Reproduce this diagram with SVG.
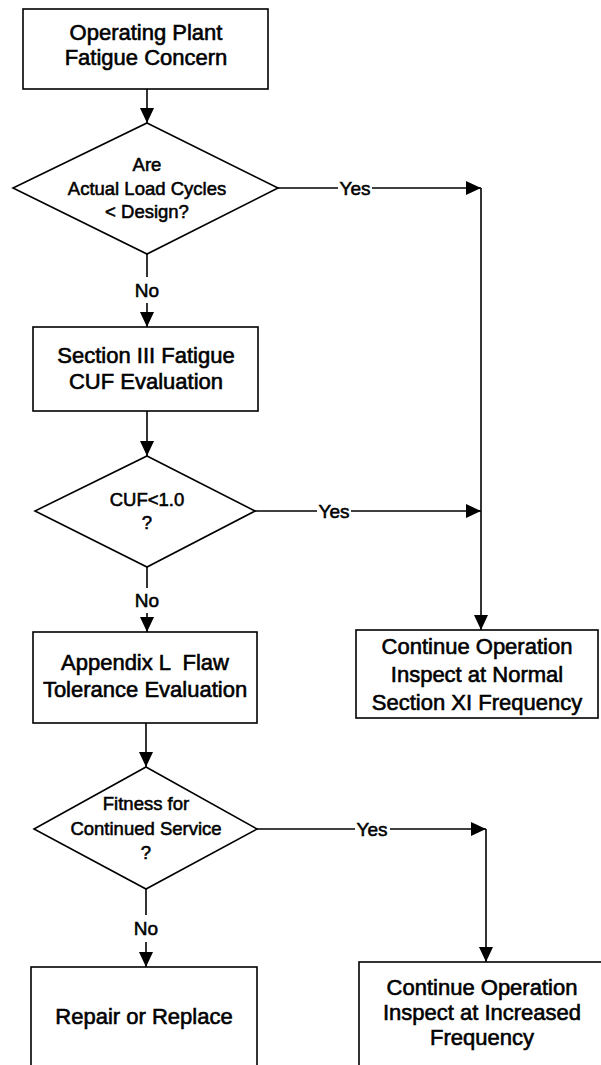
<svg xmlns="http://www.w3.org/2000/svg" width="601" height="1065" viewBox="0 0 601 1065">
<defs>
<marker id="ah" markerUnits="userSpaceOnUse" markerWidth="16" markerHeight="14" refX="15" refY="7" orient="auto">
<path d="M0,0 L15,7 L0,14 Z" fill="#000"/>
</marker>
<style>
.n{fill:#fff;stroke:#000;stroke-width:1.6}
.t{font-family:"Liberation Sans",Arial,sans-serif;font-size:22px;fill:#000;stroke:#000;stroke-width:0.6;text-anchor:middle;white-space:pre}
.d{font-family:"Liberation Sans",Arial,sans-serif;font-size:18.5px;fill:#000;stroke:#000;stroke-width:0.55;text-anchor:middle}
.l{font-family:"Liberation Sans",Arial,sans-serif;font-size:19px;fill:#000;stroke:#000;stroke-width:0.55;text-anchor:middle}
.c{fill:none;stroke:#000;stroke-width:1.6}
</style>
</defs>
<rect width="601" height="1065" fill="#fff"/>
<g id="connectors">
<line class="c" x1="147" y1="89" x2="147" y2="123" marker-end="url(#ah)"/>
<line class="c" x1="278" y1="188" x2="338" y2="188"/>
<line class="c" x1="372" y1="188" x2="481" y2="188" marker-end="url(#ah)"/>
<line class="c" x1="481" y1="188" x2="481" y2="630" marker-end="url(#ah)"/>
<line class="c" x1="147" y1="254" x2="147" y2="277"/>
<line class="c" x1="147" y1="303" x2="147" y2="327" marker-end="url(#ah)"/>
<line class="c" x1="147" y1="411" x2="147" y2="456" marker-end="url(#ah)"/>
<line class="c" x1="255" y1="511" x2="317" y2="511"/>
<line class="c" x1="351" y1="511" x2="481" y2="511" marker-end="url(#ah)"/>
<line class="c" x1="147" y1="567" x2="147" y2="588"/>
<line class="c" x1="147" y1="613" x2="147" y2="632" marker-end="url(#ah)"/>
<line class="c" x1="146" y1="723" x2="146" y2="767" marker-end="url(#ah)"/>
<line class="c" x1="257" y1="829" x2="355" y2="829"/>
<line class="c" x1="390" y1="829" x2="486" y2="829" marker-end="url(#ah)"/>
<line class="c" x1="486" y1="829" x2="486" y2="962" marker-end="url(#ah)"/>
<line class="c" x1="146" y1="889" x2="146" y2="915"/>
<line class="c" x1="146" y1="942" x2="146" y2="967" marker-end="url(#ah)"/>
<text class="l" x="355" y="195">Yes</text>
<text class="l" x="334" y="518">Yes</text>
<text class="l" x="372" y="836">Yes</text>
<text class="l" x="147" y="297">No</text>
<text class="l" x="147" y="607">No</text>
<text class="l" x="146" y="935">No</text>
</g>
<g id="n1">
<rect class="n" x="23" y="9" width="245" height="80"/>
<text class="t" x="146" y="40">Operating Plant</text>
<text class="t" x="146" y="65">Fatigue Concern</text>
</g>
<g id="n2">
<polygon class="n" points="147,123 278,188 147,254 13,188"/>
<text class="d" x="147" y="171">Are</text>
<text class="d" x="147" y="195">Actual Load Cycles</text>
<text class="d" x="147" y="218">&lt; Design?</text>
</g>
<g id="n3">
<rect class="n" x="33" y="327" width="225" height="84"/>
<text class="t" x="146" y="363">Section III Fatigue</text>
<text class="t" x="146" y="389">CUF Evaluation</text>
</g>
<g id="n4">
<polygon class="n" points="147,456 255,511 147,567 35,511"/>
<text class="d" x="147" y="506">CUF&lt;1.0</text>
<text class="d" x="147" y="529">?</text>
</g>
<g id="n5">
<rect class="n" x="356" y="630" width="242" height="88"/>
<text class="t" x="477" y="654">Continue Operation</text>
<text class="t" x="477" y="682">Inspect at Normal</text>
<text class="t" x="477" y="710">Section XI Frequency</text>
</g>
<g id="n6">
<rect class="n" x="33" y="632" width="224" height="91"/>
<text class="t" x="145" y="670" xml:space="preserve">Appendix L  Flaw</text>
<text class="t" x="145" y="697">Tolerance Evaluation</text>
</g>
<g id="n7">
<polygon class="n" points="146,767 257,829 146,889 34,829"/>
<text class="d" x="146" y="810">Fitness for</text>
<text class="d" x="146" y="835">Continued Service</text>
<text class="d" x="146" y="859">?</text>
</g>
<g id="n8">
<rect class="n" x="31" y="967" width="226" height="110"/>
<text class="t" x="144" y="1024">Repair or Replace</text>
</g>
<g id="n9">
<rect class="n" x="359" y="962" width="250" height="115"/>
<text class="t" x="482" y="995">Continue Operation</text>
<text class="t" x="482" y="1020">Inspect at Increased</text>
<text class="t" x="482" y="1045">Frequency</text>
</g>
</svg>
